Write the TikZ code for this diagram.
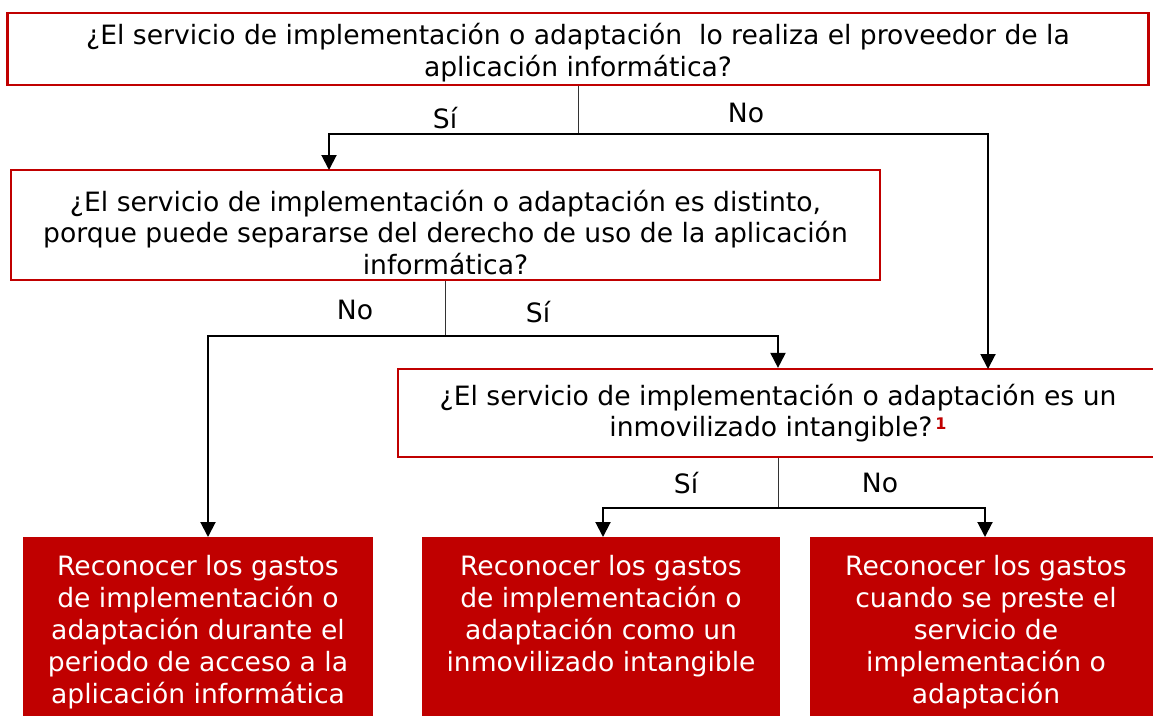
\documentclass[tikz,border=0pt]{standalone}
\usepackage{fontspec}
\setmainfont{DejaVu Sans}
\usetikzlibrary{arrows.meta}
\definecolor{kred}{HTML}{C00000}
\tikzset{
  qbox/.style={draw=kred, line width=2.2pt, fill=white, align=center, inner sep=0pt, font=\fontsize{26.6}{31.5}\selectfont},
  qtext/.style={align=center, inner sep=0pt, font=\fontsize{26.6}{31.8}\selectfont},
  abox/.style={fill=kred, text=white, align=center, inner sep=0pt, anchor=north, minimum height=190pt, font=\fontsize{26.6}{32}\selectfont},
  stem/.style={draw=black!80, line width=1pt},
  conn/.style={draw=black, line width=2pt, -{Triangle[width=15pt,length=15pt]}},
  lbl/.style={font=\fontsize{26.6}{30}\selectfont, inner sep=0pt},
}
\begin{document}
\begin{tikzpicture}[x=1pt,y=-1pt]
\useasboundingbox (0,0) rectangle (1153,715);
\clip (0,0) rectangle (1153,715);
% question boxes
\node[qbox, minimum width=1141pt, minimum height=72pt] (qa) at (578,49) {};
\node[qtext] (qatext) at (578,53) {¿El servicio de implementación o adaptación\ \ lo realiza el proveedor de la\\aplicación informática?};
\node[qbox, minimum width=869pt, minimum height=110pt] (qb) at (445.5,225) {};
\node[qtext] (qbtext) at (445.5,232.5) {¿El servicio de implementación o adaptación es distinto,\\porque puede separarse del derecho de uso de la aplicación\\informática?};
\node[qbox, minimum width=760pt, minimum height=88pt] (qc) at (778,413)
  {¿El servicio de implementación o adaptación es un\\inmovilizado intangible?\kern3pt\textcolor{kred}{\raisebox{7pt}{\fontsize{16}{16}\selectfont\bfseries 1}}};
% answer boxes
\node[abox, minimum width=350pt] (ad) at (198,537)
  {Reconocer los gastos\\de implementación o\\adaptación durante el\\periodo de acceso a la\\aplicación informática};
\node[abox, minimum width=358pt] (ae) at (601,537)
  {Reconocer los gastos\\de implementación o\\adaptación como un\\inmovilizado intangible\\\vphantom{p}};
\node[abox, minimum width=352pt] (af) at (986,537)
  {Reconocer los gastos\\cuando se preste el\\servicio de\\implementación o\\adaptación};
% junction coordinates
\coordinate (ja) at (578,134);
\coordinate (jb) at (445,336);
\coordinate (jc) at (778,508);
% connectors from A
\draw[stem] (qa.south -| ja) -- (ja);
\draw[conn] (ja) -| (329,170);
\draw[conn] (ja) -| (988,369);
\node[lbl] (sa) at (445,118) {Sí};
\node[lbl] (na) at (746,113) {No};
% connectors from B
\draw[stem] (qb.south -| jb) -- (jb);
\draw[conn] (jb) -| (ad.north -| 208,0);
\draw[conn] (jb) -| (qc.north);
\node[lbl] (nb) at (355,310) {No};
\node[lbl] (sb) at (538,312) {Sí};
% connectors from C
\draw[stem] (qc.south) -- (jc);
\draw[conn] (jc) -| (ae.north -| 603,0);
\draw[conn] (jc) -| (af.north -| 985,0);
\node[lbl] (sc) at (686,483) {Sí};
\node[lbl] (nc) at (880,483) {No};
\end{tikzpicture}
\end{document}
